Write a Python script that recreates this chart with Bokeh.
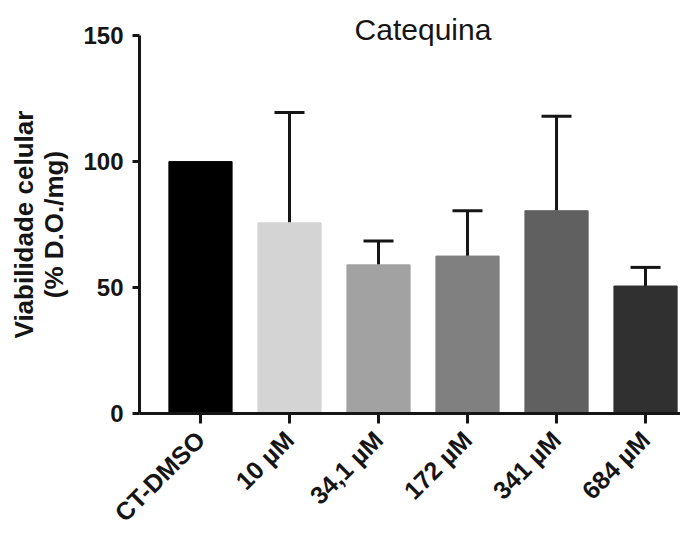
import math
from bokeh.plotting import figure
from bokeh.models import (ColumnDataSource, Range1d, FixedTicker, Label, Whisker, TeeHead)
from bokeh.core.properties import value
from bokeh.embed import file_html
from bokeh.resources import INLINE

# ---- data ----
categories = ["CT-DMSO", "10 \u00b5M", "34,1 \u00b5M", "172 \u00b5M", "341 \u00b5M", "684 \u00b5M"]
means = [100.0, 75.7, 59.0, 62.5, 80.5, 50.6]
errors = [0.0, 43.8, 9.5, 18.0, 37.5, 7.4]
colors = ["#000000", "#d4d4d4", "#a2a2a2", "#808080", "#606060", "#303030"]
y_ticks = [0, 50, 100, 150]
y_tick_labels = ["0", "50", "100", "150"]
title_text = "Catequina"
ylabel_lines = ["Viabilidade celular", "(% D.O./mg)"]

X_MIN, X_MAX = -2.247, 5.393
X_AXIS_POS = -0.685   # where the y axis crosses (left edge of the plotted area)
Y_MAX = 150

xs = list(range(len(categories)))
src = ColumnDataSource(dict(x=xs, top=means, color=colors, label=categories))
err_idx = [i for i, e in enumerate(errors) if e > 0]
err_src = ColumnDataSource(dict(
    x=[xs[i] for i in err_idx],
    lower=[means[i] for i in err_idx],
    upper=[means[i] + errors[i] for i in err_idx],
))
ytick_src = ColumnDataSource(dict(y=y_ticks, label=y_tick_labels))

FONT = "Liberation Sans"
TXT = "#151515"

p = figure(width=680, height=527, output_backend="svg", toolbar_location=None,
           x_range=Range1d(X_MIN, X_MAX), y_range=Range1d(-45.26, 163.95),
           x_axis_location="above", y_axis_location="right",
           min_border_left=0, min_border_right=0, min_border_top=0,
           min_border_bottom=0)
p.outline_line_color = None
p.xgrid.visible = False
p.ygrid.visible = False
p.background_fill_color = "white"
p.border_fill_color = "white"

p.vbar(x="x", top="top", bottom=0, width=0.71, fill_color="color",
       line_color="color", line_width=1, source=src)

wh = Whisker(base="x", lower="lower", upper="upper", source=err_src,
             line_color=TXT, line_width=3, lower_head=None,
             upper_head=TeeHead(size=30, line_width=3, line_color=TXT))
p.add_layout(wh)

# category labels (rotated) below the x axis
p.text(x="x", y=0, text="label", source=src, angle=math.pi / 4,
       text_align="right", text_baseline="top", x_offset=-10, y_offset=12,
       text_font=value(FONT), text_font_style="bold", text_font_size="25px",
       text_color=TXT)

# y tick labels
p.text(x=X_AXIS_POS, y="y", text="label", source=ytick_src,
       text_align="right", text_baseline="middle", x_offset=-16,
       text_font=value(FONT), text_font_style="bold", text_font_size="24px",
       text_color=TXT)

# y axis title (two lines)
for i, line in enumerate(ylabel_lines):
    p.add_layout(Label(x=X_AXIS_POS, y=Y_MAX / 2, text=line, x_offset=-116 + 30 * i,
                       angle=math.pi / 2, text_align="center", text_baseline="middle",
                       text_font=FONT, text_font_style="bold",
                       text_font_size="26px", text_color=TXT))

# y axis (drawn at fixed location, ticks pointing left)
ya = p.yaxis[0]
ya.fixed_location = X_AXIS_POS
ya.bounds = (0, Y_MAX)
ya.ticker = FixedTicker(ticks=y_ticks)
ya.minor_tick_line_color = None
ya.major_tick_in = 7
ya.major_tick_out = 0
ya.major_tick_line_width = 3
ya.major_tick_line_color = TXT
ya.axis_line_width = 3
ya.axis_line_color = TXT
ya.major_label_text_font_size = "0px"
ya.major_label_text_color = None
ya.major_label_standoff = 0

# x axis at y = 0, ticks pointing down
xa = p.xaxis[0]
xa.fixed_location = 0
xa.bounds = (X_AXIS_POS, X_MAX)
xa.ticker = FixedTicker(ticks=xs)
xa.minor_tick_line_color = None
xa.major_tick_in = 10
xa.major_tick_out = 0
xa.major_tick_line_width = 3
xa.major_tick_line_color = TXT
xa.axis_line_width = 3
xa.axis_line_color = TXT
xa.major_label_text_font_size = "0px"
xa.major_label_text_color = None
xa.major_label_standoff = 0

# title
p.add_layout(Label(x=2.5, y=152.5, text=title_text, text_align="center",
                   text_baseline="alphabetic", text_font=FONT,
                   text_font_size="30px", text_color=TXT))

open("out.html", "w").write(file_html(p, INLINE))
